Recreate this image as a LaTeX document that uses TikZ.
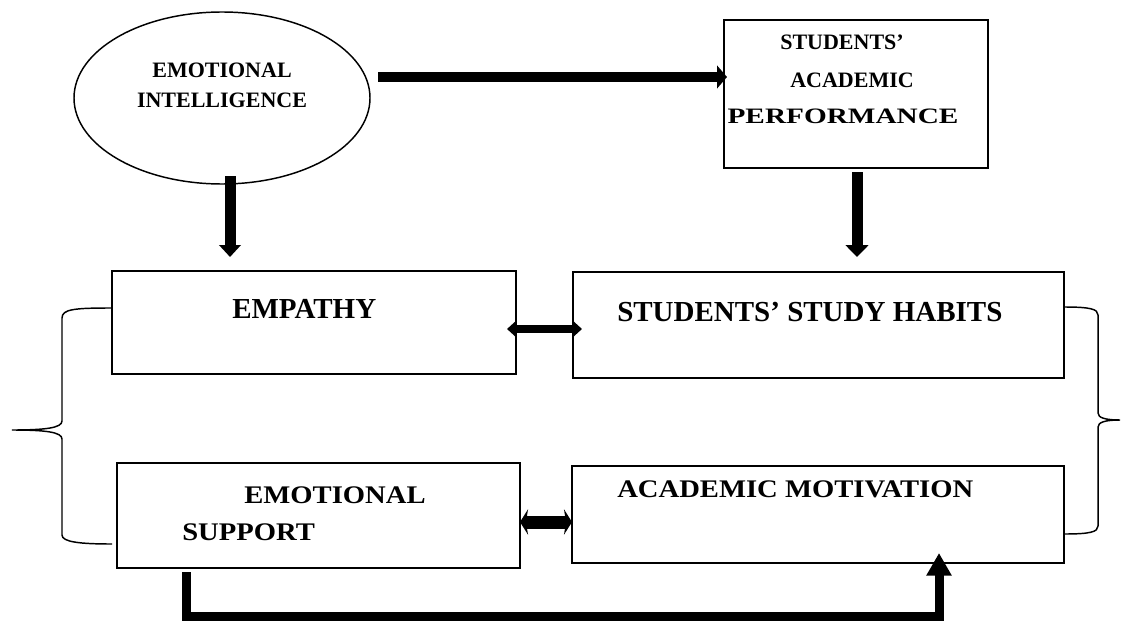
\documentclass[tikz,border=0pt]{standalone}
\usepackage{fontspec}
\setmainfont{Liberation Serif}
\usetikzlibrary{arrows.meta,calc,shapes.geometric}
\begin{document}
\begin{tikzpicture}[x=0.75pt,y=-0.75pt,
  box/.style={draw,line width=1.1pt,rectangle,inner sep=0pt,outer sep=0pt},
  oval/.style={draw,line width=1.1pt,ellipse,inner sep=0pt,outer sep=0pt},
  bigtext/.style={font=\bfseries\fontsize{21.75}{26}\selectfont,anchor=base west,inner sep=0pt},
  widetext/.style={font=\bfseries\fontsize{19}{23}\selectfont,anchor=base west,inner sep=0pt,xscale=1.13},
  smalltext/.style={font=\bfseries\fontsize{16.5}{20}\selectfont,anchor=base,inner sep=0pt},
  brace/.style={line width=1.1pt},
  flowA/.style={line width=7.5pt,-{Triangle[length=7.5pt,width=17pt]}},
  flowB/.style={line width=8.25pt,-{Triangle[length=9pt,width=16pt]}},
  flowC/.style={line width=8.25pt,-{Triangle[length=9pt,width=17pt]}},
  linkA/.style={line width=6pt,{Triangle[length=6pt,width=10.5pt]}-{Triangle[length=6pt,width=10.5pt]}},
  linkB/.style={line width=9.75pt,{Stealth[length=6pt,width=19pt,inset=1.5pt]}-{Stealth[length=6pt,width=19pt,inset=1.5pt]}},
  loopback/.style={line width=6.75pt,line join=miter,-{Triangle[length=17pt,width=18pt]}}]
\useasboundingbox (0,0) rectangle (1123,624);

% main blocks
\node[oval,minimum width=222pt,minimum height=129pt] (ei) at (222,98) {};
\node[box,minimum width=198pt,minimum height=111pt] (sap) at (856,94) {};
\node[box,minimum width=303pt,minimum height=77.25pt] (emp) at (314,322.5) {};
\node[box,minimum width=368.25pt,minimum height=79.5pt] (ssh) at (818.5,325) {};
\node[box,minimum width=302.25pt,minimum height=78.75pt] (es) at (318.5,515.5) {};
\node[box,minimum width=369pt,minimum height=72.75pt] (am) at (818,514.5) {};

% labels
\node[smalltext] (eiA) at (222,78) {EMOTIONAL};
\node[smalltext] (eiB) at (222,108) {INTELLIGENCE};
\node[smalltext] (sapA) at (842,50) {STUDENTS’};
\node[smalltext] (sapB) at (852,88) {ACADEMIC};
\node[smalltext] (sapC) at (843,123) {\scalebox{1.33}[1]{PERFORMANCE}};
\node[bigtext] (empT) at (232,318) {EMPATHY};
\node[bigtext] (sshT) at (617,321) {STUDENTS’ STUDY HABITS};
\node[widetext] (esA) at (244,503) {EMOTIONAL};
\node[widetext] (esB) at (182,540) {SUPPORT};
\node[widetext] (amT) at (617,497) {ACADEMIC MOTIVATION};

% connectors
\coordinate (ta) at ($(ei.east)+(8,-21)$);
\draw[flowA] (ta) -- ([xshift=2.25pt]ta -| sap.west);

\coordinate (eb) at ($(ei.south)+(8,-8)$);
\draw[flowB] (eb) -- ([yshift=10.5pt]eb |- emp.north);

\coordinate (sb) at ($(sap.south)+(1,4)$);
\draw[flowC] (sb) -- ([yshift=11.25pt]sb |- ssh.north);

\coordinate (ed) at ($(emp.east)+(-9,6.5)$);
\draw[linkA] (ed) -- ([xshift=6.75pt]ed -| ssh.west);

\coordinate (sd) at ($(es.east)+(0,6.5)$);
\draw[linkB] (sd) -- (sd -| am.west);

\coordinate (bs) at ($(es.south)+(-132.5,4)$);
\coordinate (te) at ($(am.south)+(121,-10)$);
\draw[loopback] (bs) -- ++(0,44) -| (te);

% braces grouping the four factors
\draw[brace] ($(emp.west)+(0,-14.5)$) .. controls (75,308) and (62,309) .. (62,318)
  -- (62,421) .. controls (62,428) and (45,430) .. (12,430)
  .. controls (45,430) and (62,432) .. (62,439)
  -- (62,535) .. controls (62,542) and (80,544) .. ($(es.west)+(-5,28.5)$);
\draw[brace] ($(ssh.east)+(0,-18)$) .. controls (1090,307) and (1098,309) .. (1098,315)
  -- (1098,413) .. controls (1098,418) and (1106,420) .. (1120,420)
  .. controls (1106,420) and (1098,422) .. (1098,427)
  -- (1098,526) .. controls (1098,532) and (1090,534) .. ($(am.east)+(0,19.5)$);
\end{tikzpicture}
\end{document}
